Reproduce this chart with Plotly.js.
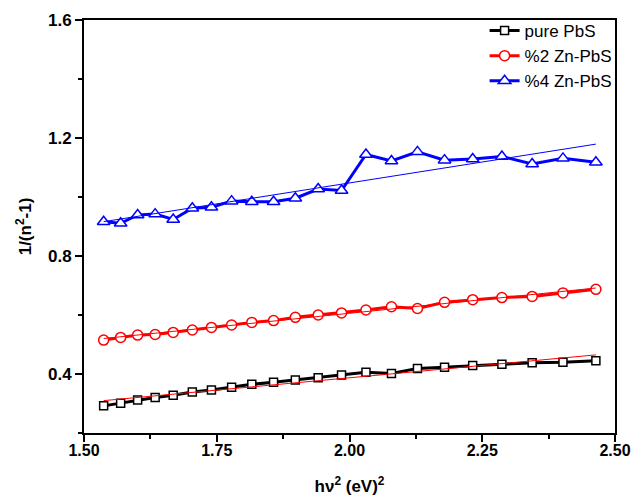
<!DOCTYPE html>
<html>
<head>
<meta charset="utf-8">
<script src="https://cdn.plot.ly/plotly-3.0.1.min.js"></script>
<style>
  html, body { margin: 0; padding: 0; background: #fff; }
  #chart { width: 643px; height: 501px; }
</style>
</head>
<body>
<div id="chart"></div>
<script>
// photon energy squared, (hν)^2 in (eV)^2
const hv2 = [1.537, 1.569, 1.601, 1.634, 1.668, 1.704, 1.740, 1.778, 1.816, 1.857,
             1.898, 1.941, 1.985, 2.031, 2.079, 2.128, 2.179, 2.232, 2.287, 2.344,
             2.402, 2.464];

// 1/(n^2 - 1) for each sample
const purePbS = [0.292, 0.301, 0.312, 0.320, 0.328, 0.339, 0.346, 0.355, 0.365, 0.372,
                 0.380, 0.387, 0.397, 0.406, 0.402, 0.419, 0.423, 0.429, 0.433, 0.438,
                 0.440, 0.445];
const zn2PbS = [0.515, 0.524, 0.532, 0.534, 0.541, 0.549, 0.558, 0.566, 0.575, 0.581,
                0.592, 0.600, 0.607, 0.617, 0.628, 0.622, 0.643, 0.652, 0.659, 0.663,
                0.675, 0.687];
const zn4PbS = [0.916, 0.911, 0.939, 0.942, 0.924, 0.962, 0.965, 0.986, 0.984, 0.984,
                0.996, 1.027, 1.022, 1.144, 1.122, 1.153, 1.125, 1.129, 1.137, 1.112,
                1.131, 1.118];

const seriesNames = ['pure PbS', '%2 Zn-PbS', '%4 Zn-PbS'];
const xTicks = [1.50, 1.75, 2.00, 2.25, 2.50];
const yTicks = [0.4, 0.8, 1.2, 1.6];

// least-squares straight line through a series
function linearFit(x, y) {
  const n = x.length;
  let sx = 0, sy = 0, sxx = 0, sxy = 0;
  for (let i = 0; i < n; i++) { sx += x[i]; sy += y[i]; sxx += x[i] * x[i]; sxy += x[i] * y[i]; }
  const b = (n * sxy - sx * sy) / (n * sxx - sx * sx);
  const a = (sy - b * sx) / n;
  const xs = [x[0], x[n - 1]];
  return { x: xs, y: xs.map(v => a + b * v) };
}

const styles = [
  { color: '#000000', symbol: 'square', size: 8, fit: '#ff0000' },
  { color: '#ff0000', symbol: 'circle', size: 10, fit: '#ff0000' },
  { color: '#0000ff', symbol: 'triangle-up', size: 11, fit: '#0000ff' }
];
const data = [purePbS, zn2PbS, zn4PbS];

const traces = [];
data.forEach((ys, i) => {
  const s = styles[i];
  traces.push({
    x: hv2, y: ys, name: seriesNames[i], type: 'scatter', mode: 'lines+markers',
    line: { color: s.color, width: 3 },
    marker: { symbol: s.symbol, size: s.size, color: '#ffffff',
              line: { color: s.color, width: 1.5 } },
    cliponaxis: false
  });
});
data.forEach((ys, i) => {
  const f = linearFit(hv2, ys);
  traces.push({
    x: f.x, y: f.y, type: 'scatter', mode: 'lines', showlegend: false,
    line: { color: styles[i].fit, width: 1 }, hoverinfo: 'skip'
  });
});

const fontFamily = 'Liberation Sans, Arial, sans-serif';

const layout = {
  width: 643, height: 501,
  margin: { l: 84, r: 28, t: 20, b: 68 },
  paper_bgcolor: '#fff', plot_bgcolor: '#fff',
  showlegend: true,
  legend: {
    x: 1.003, xanchor: 'right', y: 1.017, yanchor: 'top',
    bgcolor: 'rgba(0,0,0,0)', borderwidth: 0,
    font: { family: fontFamily, size: 17, color: '#000' },
    tracegroupgap: 0
  },
  xaxis: {
    range: [1.5, 2.5], tickvals: xTicks, ticktext: xTicks.map(v => v.toFixed(2)),
    showline: true, linewidth: 2, linecolor: '#000', mirror: true,
    ticks: 'outside', ticklen: 7, tickwidth: 2, tickcolor: '#000',
    minor: { ticks: 'outside', dtick: 0.125, tick0: 1.5, ticklen: 4, tickwidth: 2, tickcolor: '#000' },
    showgrid: false, zeroline: false, ticklabelstandoff: -5,
    tickfont: { family: fontFamily, size: 16, color: '#000', weight: 'bold' },
    title: { text: '<b>hν<sup>2</sup> (eV)<sup>2</sup></b>', font: { family: fontFamily, size: 17, color: '#000' }, standoff: 22 }
  },
  yaxis: {
    range: [0.2, 1.6], tickvals: yTicks, ticktext: yTicks.map(v => v.toFixed(1)),
    showline: true, linewidth: 2, linecolor: '#000', mirror: true,
    ticks: 'outside', ticklen: 7, tickwidth: 2, tickcolor: '#000',
    minor: { ticks: 'outside', dtick: 0.2, tick0: 0.2, ticklen: 4, tickwidth: 2, tickcolor: '#000' },
    showgrid: false, zeroline: false,
    tickfont: { family: fontFamily, size: 17, color: '#000', weight: 'bold' },
    title: { text: '<b>1/(n<sup>2</sup>-1)</b>', font: { family: fontFamily, size: 17, color: '#000' }, standoff: 12 }
  }
};

Plotly.newPlot('chart', traces, layout, { displayModeBar: false, staticPlot: true });
</script>
</body>
</html>
